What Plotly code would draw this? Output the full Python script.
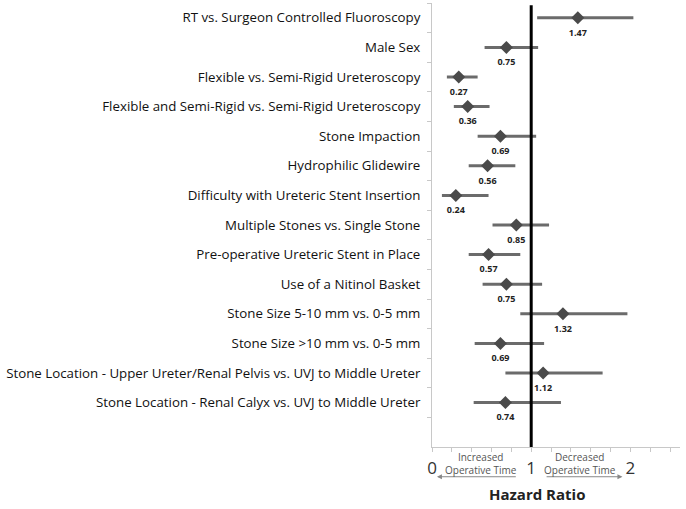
import plotly.graph_objects as go

# factors (top to bottom), hazard ratio and 95% CI
factors = [
    "RT vs. Surgeon Controlled Fluoroscopy",
    "Male Sex",
    "Flexible vs. Semi-Rigid Ureteroscopy",
    "Flexible and Semi-Rigid vs. Semi-Rigid Ureteroscopy",
    "Stone Impaction",
    "Hydrophilic Glidewire",
    "Difficulty with Ureteric Stent Insertion",
    "Multiple Stones vs. Single Stone",
    "Pre-operative Ureteric Stent in Place",
    "Use of a Nitinol Basket",
    "Stone Size 5-10 mm vs. 0-5 mm",
    "Stone Size >10 mm vs. 0-5 mm",
    "Stone Location - Upper Ureter/Renal Pelvis vs. UVJ to Middle Ureter",
    "Stone Location - Renal Calyx vs. UVJ to Middle Ureter",
]
hr = [1.47, 0.75, 0.27, 0.36, 0.69, 0.56, 0.24, 0.85, 0.57, 0.75, 1.32, 0.69, 1.12, 0.74]
ci_low = [1.06, 0.53, 0.15, 0.22, 0.46, 0.37, 0.10, 0.61, 0.37, 0.51, 0.89, 0.43, 0.74, 0.42]
ci_high = [2.03, 1.07, 0.46, 0.58, 1.05, 0.84, 0.57, 1.18, 0.89, 1.11, 1.97, 1.13, 1.72, 1.30]

# x axis ticks (minor every 0.2, labelled at 0, 1, 2)
x_ticks = [0, 0.2, 0.4, 0.6, 0.8, 1, 1.2, 1.4, 1.6, 1.8, 2, 2.2, 2.4]
x_ticktext = ["0", "", "", "", "", "1", "", "", "", "", "2", "", ""]

# one blank slot at the bottom, like the original
cats = factors + [" "]

fig = go.Figure()
fig.add_trace(go.Scatter(
    x=hr, y=factors,
    mode="markers",
    marker=dict(symbol="diamond", size=10, color="#4a4a4a"),
    error_x=dict(type="data", symmetric=False,
                 array=[h - m for h, m in zip(ci_high, hr)],
                 arrayminus=[m - l for m, l in zip(hr, ci_low)],
                 thickness=3, width=0, color="#6b6b6b"),
    showlegend=False,
    cliponaxis=False,
))
# value labels under each diamond (invisible larger marker sets the gap)
fig.add_trace(go.Scatter(
    x=hr, y=factors,
    mode="markers+text",
    marker=dict(size=16, opacity=0),
    text=["%.2f" % v for v in hr],
    textposition="bottom center",
    textfont=dict(family="Open Sans", size=9, color="#222"),
    texttemplate="<b>%{text}</b>",
    showlegend=False,
    cliponaxis=False,
    hoverinfo="skip",
))

# reference line at HR = 1
fig.add_shape(type="line", x0=1, x1=1, y0=0, y1=0.995, xref="x", yref="paper",
              line=dict(color="black", width=3))

# direction arrows and captions
fig.add_annotation(x=0.05, ax=0.86, y=-0.067, ay=0, xref="x", axref="x",
                   yref="paper", ayref="pixel", text="", showarrow=True,
                   arrowhead=2, arrowsize=1, arrowwidth=1, arrowcolor="#888")
fig.add_annotation(x=1.92, ax=1.14, y=-0.067, ay=0, xref="x", axref="x",
                   yref="paper", ayref="pixel", text="", showarrow=True,
                   arrowhead=2, arrowsize=1, arrowwidth=1, arrowcolor="#888")
fig.add_annotation(x=0.49, y=-0.037, xref="x", yref="paper", showarrow=False,
                   yanchor="middle", text="Increased<br>Operative Time",
                   font=dict(family="Open Sans", size=10, color="#555"))
fig.add_annotation(x=1.49, y=-0.037, xref="x", yref="paper", showarrow=False,
                   yanchor="middle", text="Decreased<br>Operative Time",
                   font=dict(family="Open Sans", size=10, color="#555"))
fig.add_annotation(x=1.06, y=-0.078, xref="x", yref="paper", showarrow=False,
                   yanchor="top", text="<b>Hazard Ratio</b>",
                   font=dict(family="Open Sans", size=15, color="#222"))

fig.update_xaxes(range=[0, 2.5], tickvals=x_ticks, ticktext=x_ticktext,
                 ticks="outside", ticklen=4, tickcolor="#c8c8c8",
                 showline=True, linecolor="#c8c8c8", linewidth=1,
                 showgrid=False, zeroline=False, ticklabelstandoff=2,
                 automargin=False,
                 tickfont=dict(family="Open Sans", size=17, color="#333"))
fig.update_yaxes(type="category", categoryorder="array", categoryarray=cats,
                 range=[14.5, -0.5], tickson="boundaries",
                 ticks="outside", ticklen=4, tickcolor="#c8c8c8",
                 showline=True, linecolor="#c8c8c8", linewidth=1,
                 showgrid=False, zeroline=False, ticklabelstandoff=8,
                 automargin=False,
                 tickfont=dict(family="Open Sans", size=13.3, color="#111"))

fig.update_layout(
    width=686, height=509,
    margin=dict(l=432, r=6, t=3, b=62),
    plot_bgcolor="white", paper_bgcolor="white",
    font=dict(family="Open Sans"),
)

# drop the page's default body margin so the figure sits at the top-left
fig.write_html("out.html", config={"displayModeBar": False},
               post_script="document.body.style.margin='0';")
